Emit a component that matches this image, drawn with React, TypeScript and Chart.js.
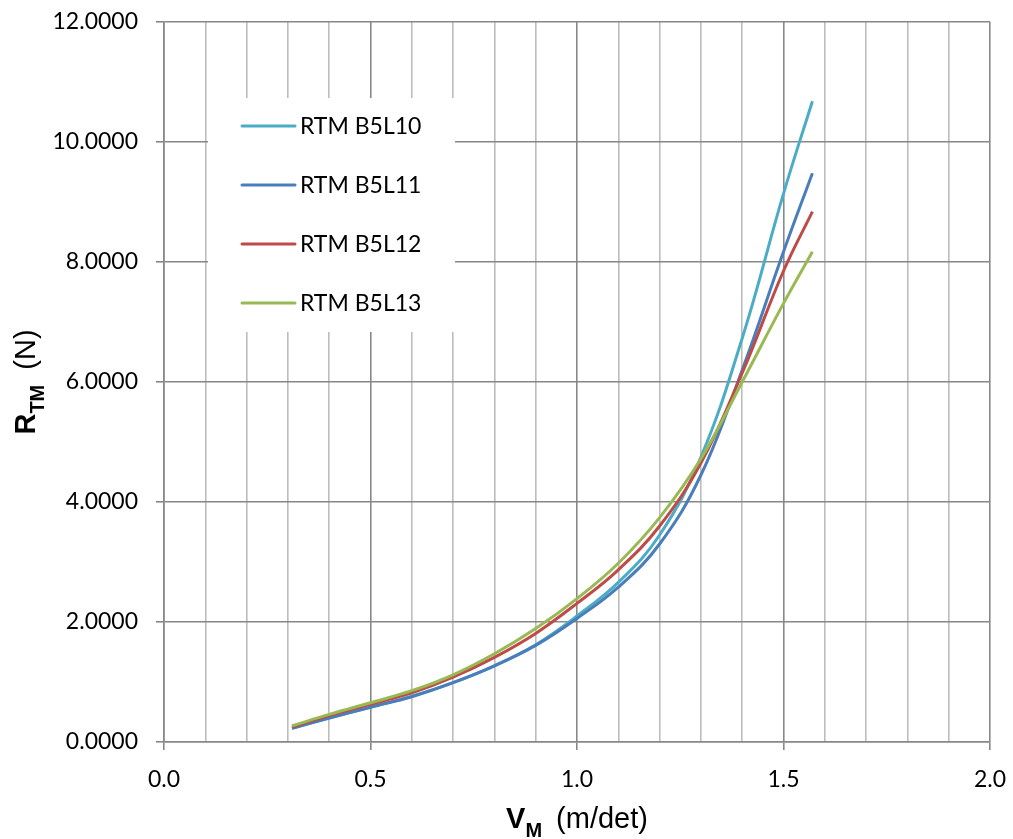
import React, { useEffect, useRef } from "react";
import { Chart, registerables } from "chart.js";

Chart.register(...registerables);

// ---- data ----
const speeds = [0.31, 0.4, 0.5, 0.6, 0.7, 0.8, 0.9, 1.0, 1.1, 1.2, 1.3, 1.4, 1.5, 1.57];
const seriesNames = ["RTM B5L10", "RTM B5L11", "RTM B5L12", "RTM B5L13"];
const rtmB5L10 = [0.23, 0.4, 0.58, 0.765, 0.99, 1.27, 1.62, 2.1, 2.66, 3.45, 4.75, 6.73, 9.14, 10.68];
const rtmB5L11 = [0.23, 0.4, 0.58, 0.755, 0.99, 1.27, 1.61, 2.06, 2.58, 3.3, 4.45, 6.2, 8.17, 9.48];
const rtmB5L12 = [0.25, 0.44, 0.63, 0.82, 1.08, 1.41, 1.81, 2.31, 2.87, 3.6, 4.65, 6.15, 7.85, 8.84];
const rtmB5L13 = [0.27, 0.46, 0.655, 0.855, 1.12, 1.47, 1.89, 2.39, 2.98, 3.74, 4.72, 6.0, 7.31, 8.17];
const seriesColors = ["#4bacc6", "#4a7ebb", "#be4b48", "#98b954"];
const xMin = 0;
const xMax = 2;
const xStep = 0.1;
const yMin = 0;
const yMax = 12;
const yStep = 2;

const TICK_FONT = "Lato";
const TITLE_FONT = '"Liberation Sans", Arial, sans-serif';
const MAJOR = "#888888";
const MINOR = "#bdbdbd";

type Part = { text?: string; font?: string; dy?: number; gap?: number };

function drawRich(ctx: CanvasRenderingContext2D, parts: Part[], cx: number, base: number, rotate: boolean) {
  ctx.save();
  let total = 0;
  const widths = parts.map((p) => {
    if (p.gap) return p.gap;
    ctx.font = p.font!;
    return ctx.measureText(p.text!).width;
  });
  widths.forEach((w) => (total += w));
  if (rotate) {
    ctx.translate(base, cx);
    ctx.rotate(-Math.PI / 2);
  } else {
    ctx.translate(cx, base);
  }
  let x = -total / 2;
  ctx.fillStyle = "#000";
  ctx.textBaseline = "alphabetic";
  ctx.textAlign = "left";
  parts.forEach((p, i) => {
    if (!p.gap) {
      ctx.font = p.font!;
      ctx.fillText(p.text!, x, p.dy || 0);
    }
    x += widths[i];
  });
  ctx.restore();
}

const titlesPlugin = {
  id: "richTitles",
  afterDraw(chart: any) {
    const { ctx, chartArea } = chart;
    const cx = (chartArea.left + chartArea.right) / 2;
    const cy = (chartArea.top + chartArea.bottom) / 2;
    drawRich(
      ctx,
      [
        { text: "V", font: `bold 29px ${TITLE_FONT}` },
        { text: "M", font: `bold 20px ${TITLE_FONT}`, dy: 9 },
        { gap: 14 },
        { text: "(m/det)", font: `29px ${TITLE_FONT}` },
      ],
      cx,
      828,
      false
    );
    drawRich(
      ctx,
      [
        { text: "R", font: `bold 29px ${TITLE_FONT}` },
        { text: "TM", font: `bold 20px ${TITLE_FONT}`, dy: 9 },
        { gap: 15 },
        { text: "(N)", font: `29px ${TITLE_FONT}` },
      ],
      cy,
      35,
      true
    );
  },
};

const legendPlugin = {
  id: "boxLegend",
  afterDatasetsDraw(chart: any) {
    const { ctx, chartArea } = chart;
    const left = chartArea.left + 44;
    const top = chartArea.top + 76;
    ctx.save();
    ctx.fillStyle = "#ffffff";
    ctx.fillRect(left, top, 247, 234);
    chart.data.datasets.forEach((ds: any, i: number) => {
      const y = top + 28 + i * 59;
      ctx.strokeStyle = ds.borderColor;
      ctx.lineWidth = 3;
      ctx.lineCap = "round";
      ctx.beginPath();
      ctx.moveTo(left + 34, y);
      ctx.lineTo(left + 87, y);
      ctx.stroke();
      ctx.fillStyle = "#000";
      ctx.font = `23px ${TICK_FONT}`;
      ctx.textBaseline = "middle";
      ctx.textAlign = "left";
      ctx.fillText(ds.label, left + 92, y + 1);
    });
    ctx.restore();
  },
};

const isMajorX = (v: number) => Math.round(v * 10) % 5 === 0;

export default function App() {
  const ref = useRef<HTMLCanvasElement | null>(null);
  useEffect(() => {
    document.body.style.margin = "0";
    const allSeries = [rtmB5L10, rtmB5L11, rtmB5L12, rtmB5L13];
    const chart = new Chart(ref.current!, {
      type: "line",
      data: {
        datasets: allSeries.map((vals, i) => ({
          label: seriesNames[i],
          data: speeds.map((s, j) => ({ x: s, y: vals[j] })),
          borderColor: seriesColors[i],
          backgroundColor: seriesColors[i],
          borderWidth: 3,
          pointRadius: 0,
          tension: 0.4,
          fill: false,
          order: allSeries.length - 1 - i,
        })),
      },
      options: {
        responsive: false,
        animation: false,
        layout: { padding: { top: 22, right: 23, left: 0, bottom: 0 } },
        plugins: { legend: { display: false }, tooltip: { enabled: false } },
        scales: {
          x: {
            type: "linear",
            min: xMin,
            max: xMax,
            afterFit: (s: any) => {
              s.height = 97;
              s.paddingLeft = 0;
              s.paddingRight = 0;
            },
            ticks: {
              stepSize: xStep,
              autoSkip: false,
              maxRotation: 0,
              padding: 16,
              color: "#000",
              font: { family: TICK_FONT, size: 23 },
              callback: (v: any) => (isMajorX(Number(v)) ? Number(v).toFixed(1) : ""),
            },
            grid: {
              color: (c: any) => (isMajorX(c.tick.value) ? MAJOR : MINOR),
              tickColor: (c: any) => (isMajorX(c.tick.value) ? MAJOR : "rgba(0,0,0,0)"),
              lineWidth: 1.6,
              tickLength: 8,
            },
            border: { color: MAJOR, width: 1.6 },
          },
          y: {
            type: "linear",
            min: yMin,
            max: yMax,
            afterFit: (s: any) => {
              s.width = 164;
              s.paddingTop = 0;
              s.paddingBottom = 0;
            },
            ticks: {
              stepSize: yStep,
              padding: 18,
              color: "#000",
              font: { family: TICK_FONT, size: 23 },
              callback: (v: any) => Number(v).toFixed(4),
            },
            grid: { color: MAJOR, tickColor: MAJOR, lineWidth: 1.6, tickLength: 8 },
            border: { color: MAJOR, width: 1.6 },
          },
        },
      },
      plugins: [legendPlugin, titlesPlugin],
    });
    return () => chart.destroy();
  }, []);
  return (
    <div style={{ width: 1013, height: 839, background: "#fff" }}>
      <canvas ref={ref} width={1013} height={839} style={{ display: "block" }} />
    </div>
  );
}
